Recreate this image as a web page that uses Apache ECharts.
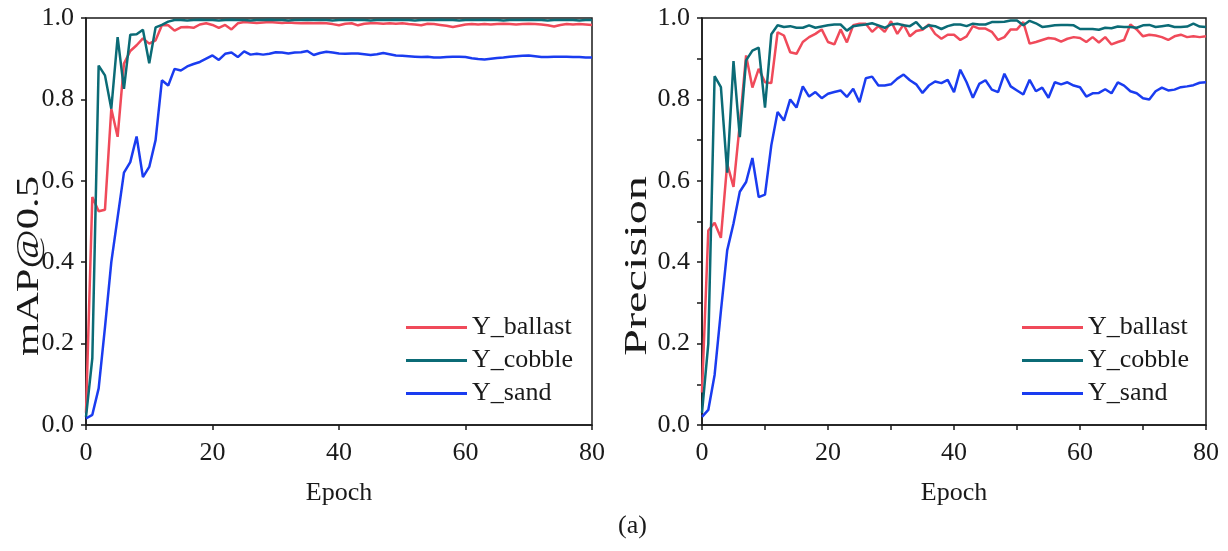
<!DOCTYPE html>
<html>
<head>
<meta charset="utf-8">
<script src="https://cdn.jsdelivr.net/npm/echarts@6/dist/echarts.min.js"></script>
<style>
  html, body { margin: 0; padding: 0; background: #fff; }
  #chart { width: 1228px; height: 551px; }
</style>
</head>
<body>
<div id="chart"></div>
<script>
// Training curves per class, epochs 0..80
const seriesNames = ['Y_ballast', 'Y_cobble', 'Y_sand'];
const xTicks = [0, 20, 40, 60, 80];
const yTicks = [0.0, 0.2, 0.4, 0.6, 0.8, 1.0];
const yTitles = ['mAP@0.5', 'Precision'];

// mAP@0.5
const mapBallast = [
  0.03, 0.56, 0.525, 0.529, 0.777, 0.708, 0.888, 0.919, 0.933, 0.95,
  0.937, 0.945, 0.982, 0.982, 0.969, 0.977, 0.978, 0.976, 0.984, 0.987,
  0.983, 0.976, 0.983, 0.972, 0.987, 0.99, 0.989, 0.988, 0.989, 0.99,
  0.989, 0.988, 0.989, 0.988, 0.987, 0.988, 0.987, 0.988, 0.987, 0.985,
  0.982, 0.986, 0.987, 0.982, 0.986, 0.987, 0.987, 0.986, 0.987, 0.986,
  0.987, 0.985, 0.984, 0.982, 0.986, 0.985, 0.983, 0.981, 0.978, 0.981,
  0.984, 0.985, 0.984, 0.985, 0.984, 0.985, 0.986, 0.985, 0.984, 0.985,
  0.986, 0.985, 0.984, 0.982, 0.979, 0.983, 0.985, 0.984, 0.985, 0.984,
  0.983
];
const mapCobble = [
  0.02, 0.164, 0.883, 0.859, 0.777, 0.953, 0.826, 0.959, 0.96, 0.971,
  0.889, 0.977, 0.983, 0.991, 0.995, 0.995, 0.994, 0.995, 0.996, 0.995,
  0.995, 0.994, 0.995, 0.996, 0.995, 0.995, 0.994, 0.995, 0.995, 0.996,
  0.995, 0.995, 0.994, 0.995, 0.995, 0.996, 0.995, 0.995, 0.995, 0.994,
  0.995, 0.995, 0.996, 0.995, 0.995, 0.994, 0.995, 0.995, 0.995, 0.996,
  0.995, 0.995, 0.994, 0.995, 0.995, 0.995, 0.996, 0.995, 0.995, 0.994,
  0.995, 0.995, 0.995, 0.996, 0.995, 0.995, 0.994, 0.995, 0.995, 0.995,
  0.996, 0.995, 0.995, 0.994, 0.995, 0.995, 0.995, 0.995, 0.994, 0.995,
  0.995
];
const mapSand = [
  0.016, 0.025, 0.09, 0.24, 0.40, 0.51, 0.62, 0.646, 0.709, 0.609,
  0.634, 0.70, 0.847, 0.834, 0.875, 0.871, 0.881, 0.887, 0.892, 0.90,
  0.908, 0.897, 0.912, 0.915, 0.904, 0.918, 0.91, 0.912, 0.91, 0.912,
  0.916, 0.915, 0.913, 0.915, 0.916, 0.919, 0.909, 0.914, 0.917, 0.915,
  0.913, 0.912, 0.913, 0.913, 0.911, 0.909, 0.911, 0.914, 0.911, 0.908,
  0.907, 0.906, 0.905, 0.904, 0.905, 0.903, 0.903, 0.904, 0.905, 0.905,
  0.904, 0.901, 0.899, 0.898, 0.900, 0.902, 0.903, 0.905, 0.906, 0.907,
  0.908, 0.906, 0.904, 0.904, 0.905, 0.905, 0.905, 0.904, 0.904, 0.903,
  0.903
];

// Precision
const precBallast = [
  0.08, 0.478, 0.497, 0.46, 0.642, 0.585, 0.74, 0.908, 0.829, 0.875,
  0.842, 0.84, 0.965, 0.957, 0.916, 0.912, 0.941, 0.953, 0.961, 0.972,
  0.941, 0.935, 0.972, 0.94, 0.982, 0.986, 0.986, 0.966, 0.98, 0.966,
  0.992, 0.961, 0.984, 0.955, 0.968, 0.971, 0.984, 0.961, 0.949, 0.959,
  0.959, 0.946, 0.955, 0.98, 0.974, 0.974, 0.966, 0.946, 0.953, 0.972,
  0.972, 0.99, 0.937, 0.941, 0.946, 0.951, 0.949, 0.942, 0.949, 0.953,
  0.951, 0.941, 0.953, 0.94, 0.953, 0.935, 0.941, 0.946, 0.984, 0.972,
  0.955, 0.959, 0.957, 0.953, 0.946, 0.955, 0.959, 0.953, 0.955, 0.953,
  0.955
];
const precCobble = [
  0.03, 0.2, 0.857, 0.83, 0.62, 0.894, 0.707, 0.896, 0.92, 0.927,
  0.78, 0.96, 0.982, 0.978, 0.98, 0.976, 0.976, 0.982, 0.976, 0.979,
  0.982, 0.984, 0.984, 0.969, 0.98, 0.982, 0.984, 0.987, 0.982, 0.976,
  0.984, 0.986, 0.982, 0.98, 0.99, 0.973, 0.982, 0.98, 0.973, 0.98,
  0.984, 0.984, 0.98, 0.986, 0.984, 0.984, 0.99, 0.99, 0.991, 0.994,
  0.994, 0.982, 0.993, 0.987, 0.978, 0.98, 0.982, 0.983, 0.983, 0.982,
  0.973, 0.973, 0.973, 0.971, 0.976, 0.975, 0.979, 0.978, 0.978, 0.976,
  0.982, 0.983, 0.978, 0.98, 0.982, 0.978, 0.978, 0.979, 0.986, 0.979,
  0.978
];
const precSand = [
  0.02, 0.037, 0.123, 0.28, 0.429, 0.495, 0.573, 0.597, 0.656, 0.56,
  0.566, 0.687, 0.769, 0.748, 0.80, 0.78, 0.832, 0.807, 0.818, 0.803,
  0.814, 0.818, 0.822, 0.806, 0.826, 0.793, 0.852, 0.856, 0.834, 0.834,
  0.837, 0.851, 0.861, 0.847, 0.837, 0.816, 0.834, 0.844, 0.84, 0.848,
  0.818, 0.873, 0.842, 0.804, 0.838, 0.847, 0.824, 0.818, 0.863, 0.832,
  0.822, 0.812, 0.848, 0.82, 0.829, 0.804, 0.842, 0.837, 0.842, 0.834,
  0.83, 0.807, 0.815, 0.816, 0.825, 0.815, 0.842, 0.834, 0.82, 0.815,
  0.803, 0.80, 0.82, 0.829, 0.822, 0.824, 0.83, 0.832, 0.835, 0.841,
  0.842
];

const colors = { ballast: '#f04a5a', cobble: '#0b6b76', sand: '#1a3cf0' };
const FONT = '"Liberation Serif", "Times New Roman", serif';
const INK = '#1a1a1a';
const TITLE_SIZE = 32;
const TITLE_LENGTH = 180;   // drawn length of the rotated y titles, px

function pairs(values) {
  return values.map((v, i) => [i, v]);
}

// widen a rotated y title so that it spans TITLE_LENGTH pixels
function titleStretch(text) {
  const ctx = document.createElement('canvas').getContext('2d');
  ctx.font = TITLE_SIZE + 'px ' + FONT;
  return Math.max(1, TITLE_LENGTH / ctx.measureText(text).width);
}

function xAxisCfg(gridIndex, minor) {
  return {
    type: 'value', gridIndex, min: xTicks[0], max: xTicks[xTicks.length - 1],
    interval: xTicks[1] - xTicks[0],
    name: 'Epoch', nameLocation: 'middle', nameGap: 55,
    nameTextStyle: { fontFamily: FONT, fontSize: 26, color: INK },
    axisLine: { show: true, onZero: false, lineStyle: { color: INK, width: 1.5 } },
    axisTick: { show: true, inside: false, length: 5, lineStyle: { color: INK, width: 1.5 } },
    minorTick: { show: minor, splitNumber: 2, length: 5, lineStyle: { color: INK, width: 1.5 } },
    axisLabel: { fontFamily: FONT, fontSize: 26, color: INK, margin: 15 },
    splitLine: { show: false }
  };
}

function yAxisCfg(gridIndex, minor) {
  return {
    type: 'value', gridIndex, min: yTicks[0], max: yTicks[yTicks.length - 1],
    interval: yTicks[1] - yTicks[0],
    axisLine: { show: true, onZero: false, lineStyle: { color: INK, width: 1.5 } },
    axisTick: { show: true, inside: false, length: 5, lineStyle: { color: INK, width: 1.5 } },
    minorTick: { show: minor, splitNumber: 2, length: 5, lineStyle: { color: INK, width: 1.5 } },
    axisLabel: { fontFamily: FONT, fontSize: 26, color: INK, margin: 12,
      formatter: v => v.toFixed(1) },
    splitLine: { show: false }
  };
}

function lineSeries(name, values, color, xi, yi) {
  return {
    name, type: 'line', xAxisIndex: xi, yAxisIndex: yi,
    data: pairs(values), showSymbol: false, symbol: 'none',
    lineStyle: { color, width: 2.5 }, itemStyle: { color },
    animation: false
  };
}

function legendCfg(left) {
  return {
    orient: 'vertical', left, top: 309,
    icon: 'rect', itemWidth: 61, itemHeight: 3, itemGap: 6,
    textStyle: { fontFamily: FONT, fontSize: 26, color: INK, lineHeight: 27 },
    data: seriesNames
  };
}

function yTitle(text, cx, cy) {
  return {
    type: 'text', x: cx, y: cy, rotation: Math.PI / 2,
    scaleX: titleStretch(text), scaleY: 1,
    style: { text, fontFamily: FONT, fontSize: TITLE_SIZE, fill: INK,
      align: 'center', verticalAlign: 'middle' }
  };
}

const chart = echarts.init(document.getElementById('chart'), null, { renderer: 'canvas' });
chart.setOption({
  backgroundColor: '#ffffff',
  animation: false,
  grid: [
    { left: 86, right: 636, top: 18, bottom: 126, show: true, borderColor: INK, borderWidth: 1.5 },
    { left: 702, right: 22, top: 18, bottom: 126, show: true, borderColor: INK, borderWidth: 1.5 }
  ],
  xAxis: [xAxisCfg(0, false), xAxisCfg(1, true)],
  yAxis: [yAxisCfg(0, false), yAxisCfg(1, true)],
  legend: [legendCfg(401), legendCfg(1017)],
  series: [
    lineSeries(seriesNames[0], mapBallast, colors.ballast, 0, 0),
    lineSeries(seriesNames[1], mapCobble, colors.cobble, 0, 0),
    lineSeries(seriesNames[2], mapSand, colors.sand, 0, 0),
    lineSeries(seriesNames[0], precBallast, colors.ballast, 1, 1),
    lineSeries(seriesNames[1], precCobble, colors.cobble, 1, 1),
    lineSeries(seriesNames[2], precSand, colors.sand, 1, 1)
  ],
  graphic: [
    yTitle(yTitles[0], 30, 266),
    yTitle(yTitles[1], 638, 266),
    {
      type: 'text', left: 618, top: 513,
      style: { text: '(a)', fontFamily: FONT, fontSize: 26, fill: INK }
    }
  ]
});
</script>
</body>
</html>
